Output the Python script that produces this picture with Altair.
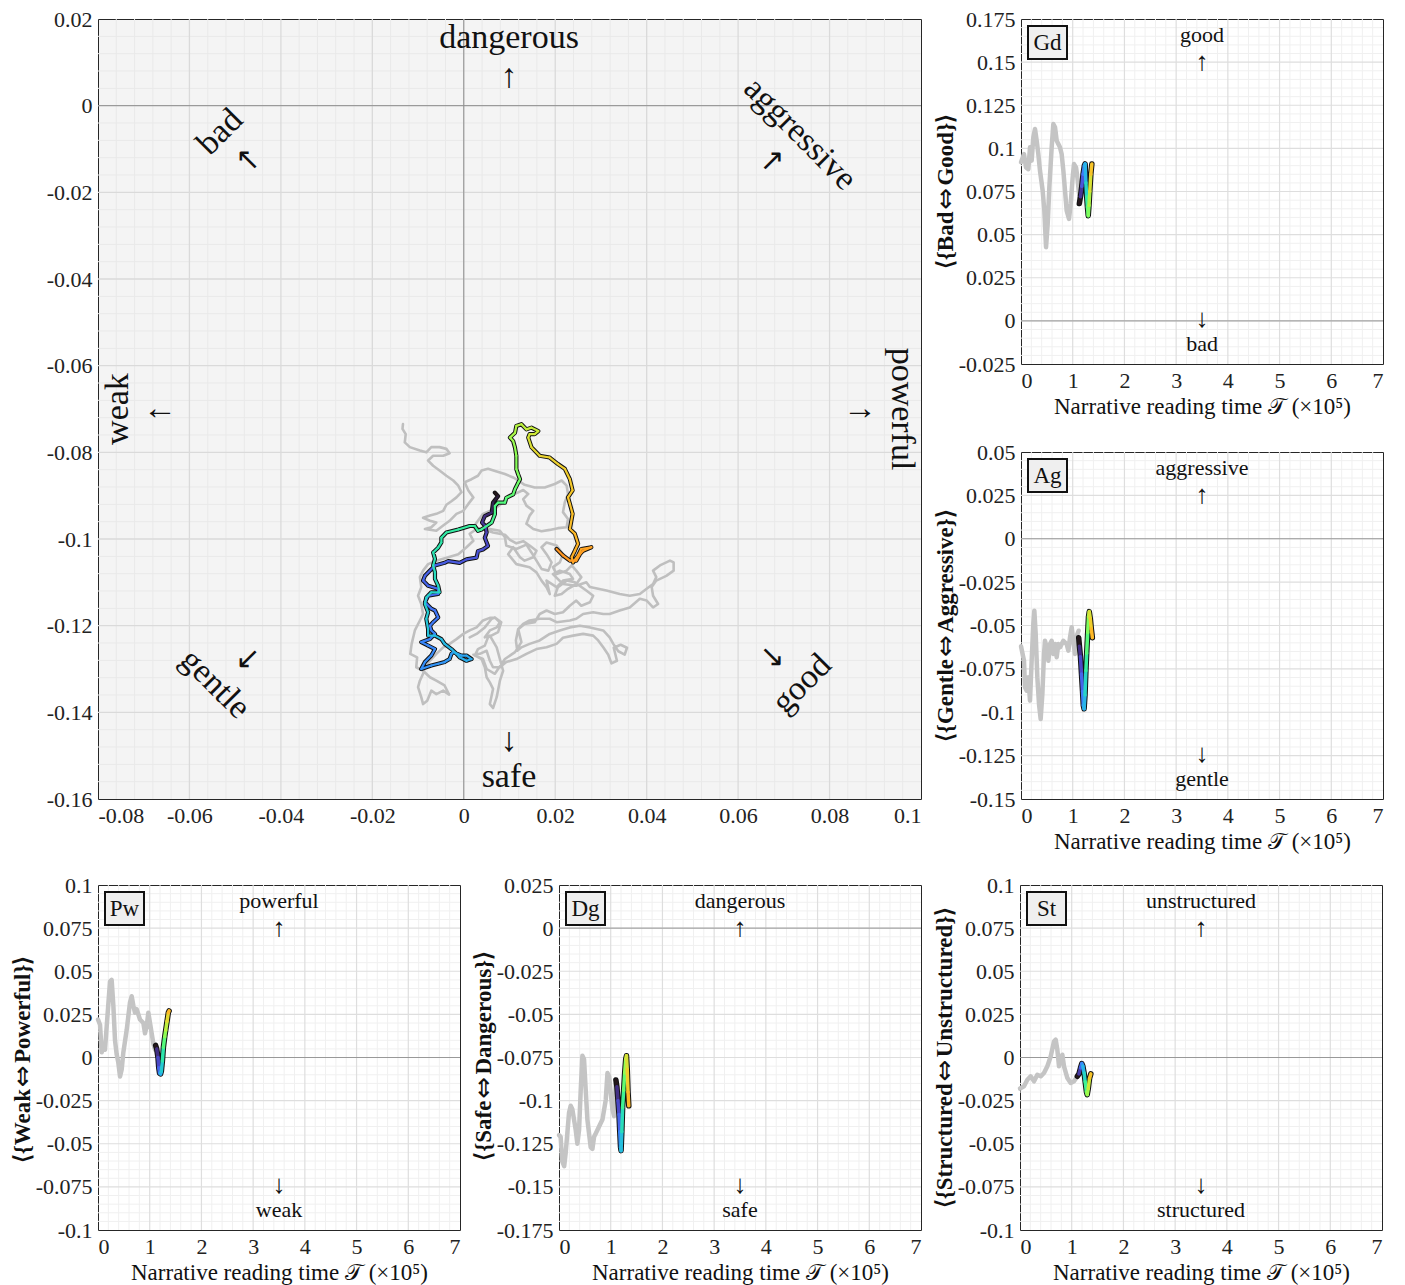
import altair as alt
import pandas as pd
import numpy as np

FONT = "Liberation Serif"

# ---------------- main trajectory: x = Weak<->Powerful, y = Safe<->Dangerous ----------------
main_gray = [
    (-0.0133, -0.0735), (-0.0134, -0.0746), (-0.0127, -0.0758), (-0.0129, -0.0777), (-0.0118, -0.0788),
    (-0.0096, -0.0796), (-0.0082, -0.0800), (-0.0071, -0.0788), (-0.0053, -0.0788), (-0.0038, -0.0792),
    (-0.0031, -0.0802), (-0.0045, -0.0808), (-0.0067, -0.0808), (-0.0078, -0.0819), (-0.0067, -0.0831),
    (-0.0053, -0.0842), (-0.0038, -0.0854), (-0.0023, -0.0865), (-0.0012, -0.0877), (-0.0005, -0.0892),
    (-0.0016, -0.0904), (-0.0027, -0.0913), (-0.0038, -0.0921), (-0.0045, -0.0935), (-0.0060, -0.0942),
    (-0.0074, -0.0946), (-0.0089, -0.0951), (-0.0074, -0.0958), (-0.0060, -0.0962), (-0.0071, -0.0973),
    (-0.0085, -0.0977), (-0.0060, -0.0981), (-0.0045, -0.0969), (-0.0031, -0.0958), (-0.0016, -0.0942),
    (-0.0001, -0.0935), (0.0010, -0.0919), (0.0021, -0.0904), (0.0010, -0.0888), (0.0002, -0.0869),
    (0.0017, -0.0862), (0.0031, -0.0854), (0.0039, -0.0842), (0.0053, -0.0838), (0.0072, -0.0844),
    (0.0090, -0.0850), (0.0108, -0.0858), (0.0119, -0.0865), (0.0133, -0.0875), (0.0155, -0.0881),
    (0.0177, -0.0881), (0.0199, -0.0873), (0.0214, -0.0865), (0.0225, -0.0877), (0.0228, -0.0896),
    (0.0221, -0.0915), (0.0217, -0.0938), (0.0228, -0.0954), (0.0225, -0.0973), (0.0206, -0.0975),
    (0.0188, -0.0979), (0.0170, -0.0982), (0.0152, -0.0977), (0.0137, -0.0965), (0.0144, -0.0946),
    (0.0152, -0.0935), (0.0137, -0.0923), (0.0130, -0.0908), (0.0141, -0.0896), (0.0130, -0.0887),
    (0.0112, -0.0896), (0.0097, -0.0904), (0.0086, -0.0915), (0.0072, -0.0927), (0.0057, -0.0935),
    (0.0042, -0.0942), (0.0031, -0.0958), (0.0021, -0.0973), (0.0042, -0.0977), (0.0064, -0.0985),
    (0.0090, -0.0990), (0.0101, -0.1002), (0.0115, -0.1010), (0.0130, -0.1005), (0.0144, -0.1015),
    (0.0159, -0.1027), (0.0152, -0.1042), (0.0133, -0.1050), (0.0123, -0.1042), (0.0108, -0.1019),
    (0.0097, -0.1035), (0.0115, -0.1058), (0.0144, -0.1065), (0.0159, -0.1077), (0.0170, -0.1096),
    (0.0181, -0.1111), (0.0188, -0.1127), (0.0181, -0.1096), (0.0203, -0.1111), (0.0217, -0.1096),
    (0.0239, -0.1092), (0.0232, -0.1081), (0.0210, -0.1073), (0.0195, -0.1081), (0.0217, -0.1104),
    (0.0246, -0.1108), (0.0268, -0.1100), (0.0276, -0.1111), (0.0294, -0.1115), (0.0312, -0.1119),
    (0.0341, -0.1127), (0.0363, -0.1131), (0.0385, -0.1127), (0.0400, -0.1115), (0.0414, -0.1104),
    (0.0421, -0.1088), (0.0414, -0.1073), (0.0429, -0.1061), (0.0451, -0.1050), (0.0459, -0.1054),
    (0.0459, -0.1073), (0.0443, -0.1085), (0.0421, -0.1096), (0.0411, -0.1111), (0.0414, -0.1131),
    (0.0425, -0.1150), (0.0414, -0.1158), (0.0400, -0.1142), (0.0385, -0.1138), (0.0363, -0.1158),
    (0.0341, -0.1165), (0.0319, -0.1173), (0.0305, -0.1173), (0.0283, -0.1169), (0.0261, -0.1173),
    (0.0246, -0.1184), (0.0232, -0.1188), (0.0203, -0.1192), (0.0188, -0.1184), (0.0166, -0.1184),
    (0.0144, -0.1188), (0.0130, -0.1196), (0.0119, -0.1208), (0.0114, -0.1234), (0.0117, -0.1258),
    (0.0126, -0.1250), (0.0144, -0.1242), (0.0166, -0.1234), (0.0188, -0.1219), (0.0210, -0.1211),
    (0.0232, -0.1204), (0.0254, -0.1200), (0.0276, -0.1204), (0.0305, -0.1211), (0.0319, -0.1227),
    (0.0327, -0.1242), (0.0338, -0.1259), (0.0352, -0.1267), (0.0357, -0.1251), (0.0343, -0.1244),
    (0.0328, -0.1251), (0.0335, -0.1281), (0.0323, -0.1287), (0.0316, -0.1267), (0.0305, -0.1250),
    (0.0294, -0.1234), (0.0283, -0.1223), (0.0261, -0.1219), (0.0239, -0.1223), (0.0217, -0.1228),
    (0.0203, -0.1242), (0.0181, -0.1250), (0.0159, -0.1254), (0.0137, -0.1265), (0.0115, -0.1277),
    (0.0093, -0.1284), (0.0079, -0.1296), (0.0064, -0.1296), (0.0057, -0.1281), (0.0050, -0.1258),
    (0.0035, -0.1265), (0.0021, -0.1267), (0.0039, -0.1277), (0.0046, -0.1296), (0.0050, -0.1319),
    (0.0057, -0.1331), (0.0064, -0.1346), (0.0057, -0.1381), (0.0064, -0.1390), (0.0072, -0.1365),
    (0.0079, -0.1327), (0.0086, -0.1304), (0.0072, -0.1250), (0.0057, -0.1223), (0.0046, -0.1227),
    (0.0057, -0.1211), (0.0072, -0.1204), (0.0079, -0.1192), (0.0068, -0.1181), (0.0057, -0.1182),
    (0.0042, -0.1188), (0.0028, -0.1204), (0.0013, -0.1211), (-0.0001, -0.1219), (-0.0016, -0.1231),
    (-0.0031, -0.1242), (-0.0045, -0.1250), (-0.0060, -0.1265), (-0.0074, -0.1281), (-0.0085, -0.1296),
    (-0.0089, -0.1311), (-0.0096, -0.1327), (-0.0100, -0.1342), (-0.0093, -0.1365), (-0.0089, -0.1381),
    (-0.0080, -0.1373), (-0.0071, -0.1350), (-0.0060, -0.1358), (-0.0045, -0.1350), (-0.0032, -0.1359),
    (-0.0042, -0.1338), (-0.0060, -0.1327), (-0.0074, -0.1319), (-0.0089, -0.1304), (-0.0104, -0.1296),
    (-0.0102, -0.1273), (-0.0117, -0.1265), (-0.0114, -0.1242), (-0.0107, -0.1211), (-0.0096, -0.1188),
    (-0.0089, -0.1173), (-0.0093, -0.1150), (-0.0100, -0.1131), (-0.0093, -0.1111), (-0.0096, -0.1088),
    (-0.0089, -0.1073), (-0.0078, -0.1058),
    (-0.0060, -0.1050), (-0.0034, -0.1042), (-0.0012, -0.1035), (0.0006, -0.1019), (0.0021, -0.1004),
    (0.0013, -0.0988), (0.0028, -0.0977), (0.0057, -0.0977), (0.0079, -0.0981), (0.0090, -0.0996),
    (0.0093, -0.1015), (0.0115, -0.1023), (0.0137, -0.1013), (0.0148, -0.1031), (0.0159, -0.1050),
    (0.0170, -0.1069), (0.0185, -0.1073), (0.0192, -0.1054), (0.0181, -0.1035), (0.0170, -0.1019),
    (0.0181, -0.1008), (0.0203, -0.1015), (0.0217, -0.1035), (0.0210, -0.1054), (0.0195, -0.1065),
    (0.0203, -0.1081), (0.0225, -0.1073), (0.0236, -0.1061), (0.0246, -0.1073), (0.0257, -0.1088),
    (0.0246, -0.1104), (0.0228, -0.1115), (0.0214, -0.1127), (0.0199, -0.1131), (0.0206, -0.1111),
    (0.0225, -0.1096), (0.0243, -0.1100), (0.0268, -0.1119), (0.0283, -0.1131), (0.0276, -0.1146),
    (0.0257, -0.1154), (0.0246, -0.1142), (0.0232, -0.1154), (0.0217, -0.1169), (0.0199, -0.1173),
    (0.0181, -0.1165), (0.0166, -0.1173), (0.0155, -0.1192), (0.0133, -0.1196), (0.0119, -0.1208),
    (0.0126, -0.1238), (0.0112, -0.1261), (0.0090, -0.1277), (0.0068, -0.1311), (0.0050, -0.1300),
    (0.0042, -0.1277), (0.0024, -0.1269), (0.0031, -0.1254), (0.0046, -0.1246), (0.0053, -0.1227),
    (0.0075, -0.1215), (0.0082, -0.1192), (0.0068, -0.1181), (0.0061, -0.1184), (0.0046, -0.1204),
    (0.0028, -0.1219), (0.0013, -0.1227),
]

# (Pw, Dg, colour position along the recent window)
main_col = [
    (0.0068, -0.0893, 0.00), (0.0075, -0.0901, 0.01), (0.0064, -0.0916, 0.02), (0.0061, -0.0939, 0.03),
    (0.0046, -0.0947, 0.04), (0.0040, -0.0962, 0.05), (0.0047, -0.0970, 0.06), (0.0050, -0.0985, 0.07),
    (0.0046, -0.0997, 0.08), (0.0053, -0.1016, 0.085), (0.0042, -0.1024, 0.09), (0.0031, -0.1028, 0.095),
    (0.0028, -0.1043, 0.10), (0.0006, -0.1047, 0.10), (-0.0009, -0.1055, 0.105), (-0.0034, -0.1051, 0.11),
    (-0.0042, -0.1055, 0.11), (-0.0063, -0.1061, 0.115), (-0.0085, -0.1085, 0.12), (-0.0089, -0.1096, 0.12),
    (-0.0078, -0.1108, 0.125), (-0.0056, -0.1115, 0.13), (-0.0056, -0.1127, 0.13), (-0.0078, -0.1131, 0.135),
    (-0.0085, -0.1146, 0.14), (-0.0071, -0.1161, 0.14), (-0.0063, -0.1165, 0.145), (-0.0056, -0.1181, 0.15),
    (-0.0067, -0.1192, 0.15), (-0.0074, -0.1200, 0.155), (-0.0071, -0.1211, 0.16), (-0.0063, -0.1219, 0.16),
    (-0.0074, -0.1231, 0.165), (-0.0093, -0.1238, 0.17), (-0.0078, -0.1246, 0.17), (-0.0063, -0.1254, 0.175),
    (-0.0071, -0.1269, 0.18), (-0.0085, -0.1284, 0.18), (-0.0093, -0.1300, 0.185), (-0.0071, -0.1292, 0.19),
    (-0.0056, -0.1288, 0.19), (-0.0042, -0.1284, 0.195), (-0.0031, -0.1277, 0.20), (-0.0027, -0.1265, 0.205),
    (-0.0023, -0.1261, 0.21), (-0.0005, -0.1269, 0.215), (0.0006, -0.1269, 0.22), (0.0017, -0.1277, 0.225),
    (0.0006, -0.1281, 0.23), (-0.0009, -0.1273, 0.235), (-0.0016, -0.1265, 0.24), (-0.0027, -0.1254, 0.245),
    (-0.0042, -0.1242, 0.25), (-0.0049, -0.1231, 0.255), (-0.0063, -0.1223, 0.26), (-0.0078, -0.1223, 0.265),
    (-0.0078, -0.1208, 0.27), (-0.0082, -0.1184, 0.28), (-0.0078, -0.1169, 0.285), (-0.0085, -0.1150, 0.29),
    (-0.0082, -0.1135, 0.295), (-0.0071, -0.1123, 0.30), (-0.0053, -0.1123, 0.305), (-0.0056, -0.1108, 0.31),
    (-0.0063, -0.1092, 0.315), (-0.0063, -0.1077, 0.32), (-0.0067, -0.1061, 0.325), (-0.0063, -0.1046, 0.33),
    (-0.0067, -0.1031, 0.335), (-0.0056, -0.1020, 0.34), (-0.0049, -0.1008, 0.345), (-0.0049, -0.0997, 0.35),
    (-0.0038, -0.0985, 0.355), (-0.0012, -0.0978, 0.36), (0.0013, -0.0970, 0.365), (0.0024, -0.0970, 0.37),
    (0.0031, -0.0981, 0.375), (0.0039, -0.0978, 0.38), (0.0061, -0.0962, 0.39), (0.0068, -0.0943, 0.40),
    (0.0068, -0.0924, 0.41), (0.0075, -0.0916, 0.415), (0.0090, -0.0916, 0.42), (0.0093, -0.0905, 0.43),
    (0.0108, -0.0897, 0.44), (0.0112, -0.0885, 0.45), (0.0119, -0.0870, 0.46), (0.0123, -0.0862, 0.47),
    (0.0119, -0.0851, 0.48), (0.0115, -0.0839, 0.49), (0.0115, -0.0808, 0.50), (0.0112, -0.0789, 0.51),
    (0.0108, -0.0774, 0.52), (0.0101, -0.0766, 0.53), (0.0112, -0.0755, 0.54), (0.0115, -0.0739, 0.55),
    (0.0126, -0.0735, 0.56), (0.0137, -0.0747, 0.57), (0.0148, -0.0743, 0.575), (0.0163, -0.0751, 0.58),
    (0.0155, -0.0758, 0.585), (0.0144, -0.0758, 0.59), (0.0141, -0.0766, 0.60),
    (0.0148, -0.0788, 0.62), (0.0166, -0.0808, 0.63), (0.0188, -0.0812, 0.635), (0.0206, -0.0827, 0.64),
    (0.0221, -0.0838, 0.645), (0.0232, -0.0862, 0.65), (0.0238, -0.0888, 0.655), (0.0228, -0.0904, 0.66),
    (0.0232, -0.0919, 0.665), (0.0238, -0.0942, 0.67), (0.0232, -0.0977, 0.675), (0.0243, -0.0988, 0.68),
    (0.0250, -0.1011, 0.69), (0.0243, -0.1027, 0.695), (0.0236, -0.1042, 0.70), (0.0239, -0.1054, 0.70),
    (0.0250, -0.1038, 0.705), (0.0257, -0.1023, 0.71), (0.0279, -0.1019, 0.715), (0.0261, -0.1027, 0.72),
    (0.0254, -0.1035, 0.72), (0.0246, -0.1050, 0.725), (0.0232, -0.1050, 0.73), (0.0217, -0.1038, 0.735),
    (0.0203, -0.1023, 0.74),
]

# ---------------- time series (t in units of 1e5) ----------------
gd_gray = [(0.0, 0.092), (0.058, 0.0967), (0.097, 0.089), (0.142, 0.088), (0.174, 0.1006), (0.206, 0.0929),
           (0.238, 0.1064), (0.271, 0.1112), (0.303, 0.1045), (0.335, 0.0967), (0.367, 0.0871), (0.419, 0.0755),
           (0.451, 0.0639), (0.484, 0.0427), (0.516, 0.0562), (0.548, 0.0774), (0.593, 0.1006), (0.625, 0.1141),
           (0.658, 0.1122), (0.690, 0.1045), (0.722, 0.1025), (0.754, 0.1006), (0.786, 0.0967), (0.819, 0.0871),
           (0.851, 0.0755), (0.883, 0.0639), (0.928, 0.0591), (0.961, 0.0678), (0.999, 0.0832), (1.025, 0.0909),
           (1.064, 0.0890), (1.090, 0.0832), (1.116, 0.0755), (1.141, 0.070)]
gd_col = [(1.128, 0.068, 0.0), (1.15, 0.072, 0.05), (1.175, 0.078, 0.1), (1.2, 0.085, 0.15), (1.225, 0.090, 0.2),
          (1.24, 0.091, 0.24), (1.255, 0.080, 0.3), (1.27, 0.072, 0.36), (1.285, 0.066, 0.42), (1.30, 0.061, 0.48),
          (1.315, 0.067, 0.54), (1.33, 0.075, 0.6), (1.35, 0.085, 0.66), (1.37, 0.091, 0.72)]

ag_gray = [(0.0, -0.062), (0.058, -0.0703), (0.077, -0.0856), (0.11, -0.0876), (0.142, -0.0799), (0.174, -0.0933),
           (0.206, -0.0703), (0.238, -0.0491), (0.258, -0.0415), (0.284, -0.0549), (0.316, -0.0799), (0.348, -0.0952),
           (0.38, -0.1039), (0.413, -0.0895), (0.445, -0.0664), (0.464, -0.0588), (0.496, -0.0626), (0.529, -0.0703),
           (0.561, -0.0607), (0.593, -0.0588), (0.625, -0.0664), (0.658, -0.0607), (0.69, -0.0683), (0.722, -0.0607),
           (0.754, -0.0626), (0.819, -0.0588), (0.883, -0.0607), (0.916, -0.0645), (0.948, -0.0568), (0.98, -0.0510),
           (1.012, -0.0588), (1.044, -0.0664), (1.09, -0.0549), (1.116, -0.0530)]
ag_col = [(1.116, -0.057, 0.0), (1.13, -0.062, 0.04), (1.15, -0.068, 0.08), (1.17, -0.078, 0.12), (1.19, -0.088, 0.16),
          (1.205, -0.096, 0.2), (1.22, -0.098, 0.24), (1.238, -0.090, 0.3), (1.255, -0.076, 0.36), (1.27, -0.066, 0.42),
          (1.29, -0.054, 0.48), (1.305, -0.045, 0.54), (1.32, -0.042, 0.6), (1.34, -0.046, 0.64), (1.36, -0.052, 0.68),
          (1.38, -0.057, 0.72)]

pw_gray = [(0.0, 0.022), (0.039, 0.019), (0.071, 0.003), (0.10, 0.006), (0.135, 0.0045), (0.2, 0.031), (0.232, 0.044),
           (0.264, 0.045), (0.297, 0.030), (0.329, 0.010), (0.36, 0.002), (0.393, -0.003), (0.426, -0.011),
           (0.458, -0.007), (0.49, 0.003), (0.555, 0.016), (0.619, 0.032), (0.651, 0.0355), (0.684, 0.030),
           (0.716, 0.026), (0.748, 0.028), (0.812, 0.022), (0.877, 0.020), (0.909, 0.014), (0.941, 0.018),
           (0.973, 0.026), (1.006, 0.020), (1.07, 0.008), (1.103, 0.0045)]
pw_col = [(1.115, 0.0070, 0.0), (1.135, 0.0050, 0.04), (1.16, 0.000, 0.08), (1.175, -0.006, 0.12), (1.19, -0.009, 0.18),
          (1.21, -0.0095, 0.24), (1.225, -0.008, 0.28), (1.245, -0.002, 0.34), (1.265, 0.006, 0.42), (1.29, 0.012, 0.5),
          (1.31, 0.016, 0.56), (1.335, 0.021, 0.62), (1.36, 0.026, 0.68), (1.375, 0.027, 0.72)]

dg_gray = [(0.0, -0.120), (0.032, -0.121), (0.06, -0.135), (0.1, -0.138), (0.13, -0.130), (0.161, -0.119),
           (0.194, -0.107), (0.226, -0.103), (0.258, -0.105), (0.323, -0.117), (0.355, -0.125), (0.388, -0.117),
           (0.42, -0.094), (0.452, -0.074), (0.484, -0.076), (0.517, -0.094), (0.549, -0.111), (0.581, -0.119),
           (0.613, -0.127), (0.646, -0.128), (0.678, -0.121), (0.711, -0.119), (0.775, -0.115), (0.84, -0.111),
           (0.904, -0.0995), (0.937, -0.084), (0.969, -0.086), (1.001, -0.0956), (1.033, -0.105), (1.066, -0.109),
           (1.098, -0.090)]
dg_col = [(1.10, -0.088, 0.0), (1.12, -0.092, 0.04), (1.14, -0.100, 0.08), (1.16, -0.108, 0.12), (1.175, -0.118, 0.17),
          (1.19, -0.127, 0.22), (1.2, -0.129, 0.26), (1.215, -0.118, 0.32), (1.23, -0.104, 0.38), (1.25, -0.094, 0.44),
          (1.27, -0.084, 0.5), (1.29, -0.076, 0.56), (1.305, -0.074, 0.6), (1.32, -0.082, 0.64), (1.335, -0.095, 0.68),
          (1.35, -0.103, 0.72)]

st_gray = [(0.0, -0.018), (0.077, -0.0167), (0.142, -0.0129), (0.206, -0.0109), (0.271, -0.0138), (0.335, -0.0100),
           (0.4, -0.0109), (0.464, -0.0090), (0.529, -0.0051), (0.593, 0.0006), (0.658, 0.0094), (0.690, 0.0103),
           (0.722, 0.0045), (0.754, -0.0051), (0.786, -0.0013), (0.819, 0.0016), (0.851, -0.0051), (0.916, -0.0119),
           (0.98, -0.0148), (1.044, -0.0138), (1.109, -0.0109)]
st_col = [(1.109, -0.0109, 0.0), (1.14, -0.0095, 0.06), (1.17, -0.006, 0.12), (1.195, -0.0035, 0.18),
          (1.215, -0.005, 0.24), (1.24, -0.009, 0.3), (1.26, -0.014, 0.38), (1.285, -0.020, 0.46),
          (1.30, -0.0215, 0.52), (1.32, -0.018, 0.58), (1.345, -0.012, 0.66), (1.37, -0.0095, 0.72)]

# tick values
main_xticks = [-0.08, -0.06, -0.04, -0.02, 0, 0.02, 0.04, 0.06, 0.08, 0.1]
main_yticks = [0.02, 0, -0.02, -0.04, -0.06, -0.08, -0.1, -0.12, -0.14, -0.16]
ts_xticks = [0, 1, 2, 3, 4, 5, 6, 7]
gd_yticks = [0.175, 0.15, 0.125, 0.1, 0.075, 0.05, 0.025, 0, -0.025]
ag_yticks = [0.05, 0.025, 0, -0.025, -0.05, -0.075, -0.1, -0.125, -0.15]
pw_yticks = [0.1, 0.075, 0.05, 0.025, 0, -0.025, -0.05, -0.075, -0.1]
dg_yticks = [0.025, 0, -0.025, -0.05, -0.075, -0.1, -0.125, -0.15, -0.175]
st_yticks = [0.1, 0.075, 0.05, 0.025, 0, -0.025, -0.05, -0.075, -0.1]

XTITLE = "Narrative reading time \U0001D4AF (\u00d710\u2075)"
COLOR_SCALE = alt.Scale(scheme="turbo", domain=[0, 1])
LABEL_EXPR = "toString(datum.value)"
DUMMY = pd.DataFrame({"d": [0]})
Y_EXTENT = 62
LBL = 22
TTL = 23          # y title word size
ARW = 26          # y title arrow size
ARW_W = 22        # its approximate width in px
TITLE_X = -75     # y title centre, relative to plot left

# approximate advance widths (em) of Times-like bold, for centring the composed y titles
_W = {"A": .722, "B": .667, "D": .722, "G": .778, "P": .611, "S": .556, "U": .722, "W": 1.0,
      "a": .5, "c": .444, "d": .556, "e": .444, "g": .5, "i": .278, "l": .278, "n": .556, "o": .5,
      "r": .444, "s": .389, "t": .333, "u": .556, "v": .5, "w": .722, "{": .394, "}": .394,
      "\u27e8": .39, "\u27e9": .39}


def text_w(s, size):
    return sum(_W.get(ch, .5) for ch in s) * size


def minor_vals(lo, hi, step, majors):
    vals = np.round(np.arange(lo, hi + step / 2, step), 6)
    out = []
    for v in vals:
        if v <= lo + 1e-9 or v >= hi - 1e-9:
            continue
        if any(abs(v - m) < 1e-9 for m in majors):
            continue
        out.append(float(v))
    return out


def inner(vals, lo, hi):
    return [v for v in vals if lo + 1e-9 < v < hi - 1e-9]


def rules(vals, ch, scale, axis, color, width=1):
    df = pd.DataFrame({"g": vals})
    if ch == "x":
        enc = dict(x=alt.X("g:Q", scale=scale, axis=axis))
    else:
        enc = dict(y=alt.Y("g:Q", scale=scale, axis=axis))
    return alt.Chart(df).mark_rule(color=color, strokeWidth=width).encode(**enc)


def txt(x, y, s, size, angle=0, font=FONT, align="center", weight="normal", opacity=1.0):
    return alt.Chart(DUMMY).mark_text(
        font=font, fontSize=size, angle=angle, align=align, baseline="middle", color="#111111",
        fontWeight=weight, opacity=opacity
    ).encode(x=alt.value(x), y=alt.value(y), text=alt.value(s))


def y_title(left, right, h, opacity=1.0):
    wl, wr = text_w(left, TTL), text_w(right, TTL)
    gap = 2
    arrow_c = h / 2 - (wl - wr) / 2
    return [
        txt(TITLE_X, arrow_c + ARW_W / 2 + gap, left, TTL, 270, align="right", weight="bold", opacity=opacity),
        txt(TITLE_X, arrow_c, "\u21d4", ARW, 270, font="DejaVu Sans", opacity=opacity),
        txt(TITLE_X, arrow_c - ARW_W / 2 - gap, right, TTL, 270, align="left", weight="bold", opacity=opacity),
    ]


def seg_df(col):
    rows = []
    for i in range(len(col) - 1):
        rows.append({"x": col[i][0], "y": col[i][1], "x2": col[i + 1][0], "y2": col[i + 1][1], "tau": col[i][2]})
    return pd.DataFrame(rows)


def colored_layers(col, xs, ys, xa, ya, w_out, w_in):
    pts = pd.DataFrame({"x": [c[0] for c in col], "y": [c[1] for c in col], "i": list(range(len(col)))})
    outline = alt.Chart(pts).mark_line(color="#111111", strokeWidth=w_out, strokeCap="round", strokeJoin="round").encode(
        x=alt.X("x:Q", scale=xs, axis=xa), y=alt.Y("y:Q", scale=ys, axis=ya), order="i:Q")
    segs = alt.Chart(seg_df(col)).mark_rule(strokeWidth=w_in, strokeCap="round").encode(
        x=alt.X("x:Q", scale=xs, axis=xa), y=alt.Y("y:Q", scale=ys, axis=ya),
        x2="x2:Q", y2="y2:Q",
        color=alt.Color("tau:Q", scale=COLOR_SCALE, legend=None))
    return [outline, segs]


# ---------------- main panel ----------------
MW, MH = 823, 780
mxs = alt.Scale(domain=[-0.08, 0.1], nice=False, zero=False)
mys = alt.Scale(domain=[-0.16, 0.02], nice=False, zero=False)
mxa = alt.Axis(values=main_xticks, labelExpr=LABEL_EXPR, title=None, grid=False, ticks=False,
               domain=False, labelPadding=6)
mya = alt.Axis(values=main_yticks, labelExpr=LABEL_EXPR, title=None, grid=False, ticks=False, domain=False,
               labelPadding=6, minExtent=Y_EXTENT, maxExtent=Y_EXTENT)

gdf = pd.DataFrame({"x": [p[0] for p in main_gray], "y": [p[1] for p in main_gray], "i": list(range(len(main_gray)))})
main_layers = [
    rules(minor_vals(-0.08, 0.1, 0.004, main_xticks), "x", mxs, mxa, "#e9e9e9"),
    rules(minor_vals(-0.16, 0.02, 0.004, main_yticks), "y", mys, mya, "#e9e9e9"),
    rules(inner(main_xticks, -0.08, 0.1), "x", mxs, mxa, "#dadada", 1.3),
    rules(inner(main_yticks, -0.16, 0.02), "y", mys, mya, "#dadada", 1.3),
    rules([0], "x", mxs, mxa, "#8f8f8f", 1),
    rules([0], "y", mys, mya, "#8f8f8f", 1),
    alt.Chart(gdf).mark_line(color="#bfbfbf", strokeWidth=2.6, strokeJoin="round", strokeCap="round").encode(
        x=alt.X("x:Q", scale=mxs, axis=mxa), y=alt.Y("y:Q", scale=mys, axis=mya), order="i:Q"),
]
main_layers += colored_layers(main_col, mxs, mys, mxa, mya, 4.2, 2.2)
main_layers += [
    txt(411, 19, "dangerous", 34), txt(411, 58, "\u2191", 34),
    txt(411, 722, "\u2193", 34), txt(411, 758, "safe", 34),
    txt(20, 390, "weak", 34, 270), txt(62, 390, "\u2190", 34),
    txt(762, 390, "\u2192", 34), txt(804, 390, "powerful", 34, 90),
    txt(122, 113, "bad", 34, 315), txt(150, 141, "\u2196", 30, font="DejaVu Sans"),
    txt(702, 115, "aggressive", 34, 45), txt(674, 142, "\u2197", 30, font="DejaVu Sans"),
    txt(117, 665, "gentle", 34, 45), txt(150, 640, "\u2199", 30, font="DejaVu Sans"),
    txt(704, 665, "good", 34, 315), txt(674, 638, "\u2198", 30, font="DejaVu Sans"),
]
# invisible placeholder so the main panel reserves the same left margin as the lower-left panel
main_layers += [txt(TITLE_X, MH / 2, "\u21d4", ARW, 270, font="DejaVu Sans", opacity=0.0)]
main = alt.layer(*main_layers).properties(
    width=MW, height=MH, view=alt.ViewBackground(fill="#f4f4f4", stroke="#262626", strokeWidth=1))


# ---------------- time series panels ----------------
TW, TH = 362, 345


def ts_panel(code, gray, col, ydom, yticks, tleft, tright, top, bottom, h=TH):
    xs = alt.Scale(domain=[0, 7], nice=False, zero=False)
    ys = alt.Scale(domain=ydom, nice=False, zero=False)
    xa = alt.Axis(values=ts_xticks, title=XTITLE, grid=False, ticks=False, domain=False,
                  labelPadding=6, titlePadding=4)
    ya = alt.Axis(values=yticks, labelExpr=LABEL_EXPR, title=None, grid=False, ticks=False, domain=False,
                  labelPadding=6, minExtent=Y_EXTENT, maxExtent=Y_EXTENT)
    df = pd.DataFrame({"t": [p[0] for p in gray], "v": [p[1] for p in gray]})
    layers = [
        rules(minor_vals(0, 7, 0.2, ts_xticks), "x", xs, xa, "#f0f0f0"),
        rules(minor_vals(ydom[0], ydom[1], 0.005, yticks), "y", ys, ya, "#f0f0f0"),
        rules(inner(ts_xticks, 0, 7), "x", xs, xa, "#dedede", 1.2),
        rules(inner(yticks, ydom[0], ydom[1]), "y", ys, ya, "#dedede", 1.2),
        rules([0], "y", ys, ya, "#999999", 1),
        alt.Chart(df).mark_line(color="#c4c4c4", strokeWidth=4.5, strokeJoin="round", strokeCap="round").encode(
            x=alt.X("t:Q", scale=xs, axis=xa), y=alt.Y("v:Q", scale=ys, axis=ya)),
    ]
    layers += colored_layers(col, xs, ys, xa, ya, 5.5, 3.5)
    layers += [
        alt.Chart(DUMMY).mark_rect(fill="#efefef", stroke="#111111", strokeWidth=2).encode(
            x=alt.value(7), x2=alt.value(46), y=alt.value(7), y2=alt.value(40)),
        txt(26.5, 24, code, 23),
        txt(181, 16, top, 22), txt(181, 43, "\u2191", 26),
        txt(181, h - 45, "\u2193", 26), txt(181, h - 20, bottom, 22),
    ]
    layers += y_title(tleft, tright, h)
    return alt.layer(*layers).properties(
        width=TW, height=h, view=alt.ViewBackground(fill="white", stroke="#262626", strokeWidth=1))


gd = ts_panel("Gd", gd_gray, gd_col, [-0.025, 0.175], gd_yticks, "\u27e8{Bad", "Good}\u27e9", "good", "bad")
ag = ts_panel("Ag", ag_gray, ag_col, [-0.15, 0.05], ag_yticks, "\u27e8{Gentle", "Aggressive}\u27e9",
              "aggressive", "gentle", h=347)
pw = ts_panel("Pw", pw_gray, pw_col, [-0.1, 0.1], pw_yticks, "\u27e8{Weak", "Powerful}\u27e9", "powerful", "weak")
dg = ts_panel("Dg", dg_gray, dg_col, [-0.175, 0.025], dg_yticks, "\u27e8{Safe", "Dangerous}\u27e9",
              "dangerous", "safe")
st = ts_panel("St", st_gray, st_col, [-0.1, 0.1], st_yticks, "\u27e8{Structured", "Unstructured}\u27e9",
              "unstructured", "structured")

right_col = alt.vconcat(gd, ag, spacing=88, bounds="flush")
top_row = alt.hconcat(main, right_col, spacing=100, bounds="flush")
bottom_row = alt.hconcat(pw, dg, st, spacing=99, bounds="flush")

chart = alt.vconcat(top_row, bottom_row, spacing=19).properties(
    padding={"left": 1, "top": -1, "right": 5, "bottom": 5}
).configure(
    font=FONT
).configure_axis(
    labelFont=FONT, titleFont=FONT, labelFontSize=LBL, titleFontSize=23, labelColor="#222222",
    titleColor="#111111", titleFontWeight="normal"
).configure_view(
    stroke="#262626"
)

chart.save("out.html", embed_options={"renderer": "svg", "actions": False})
